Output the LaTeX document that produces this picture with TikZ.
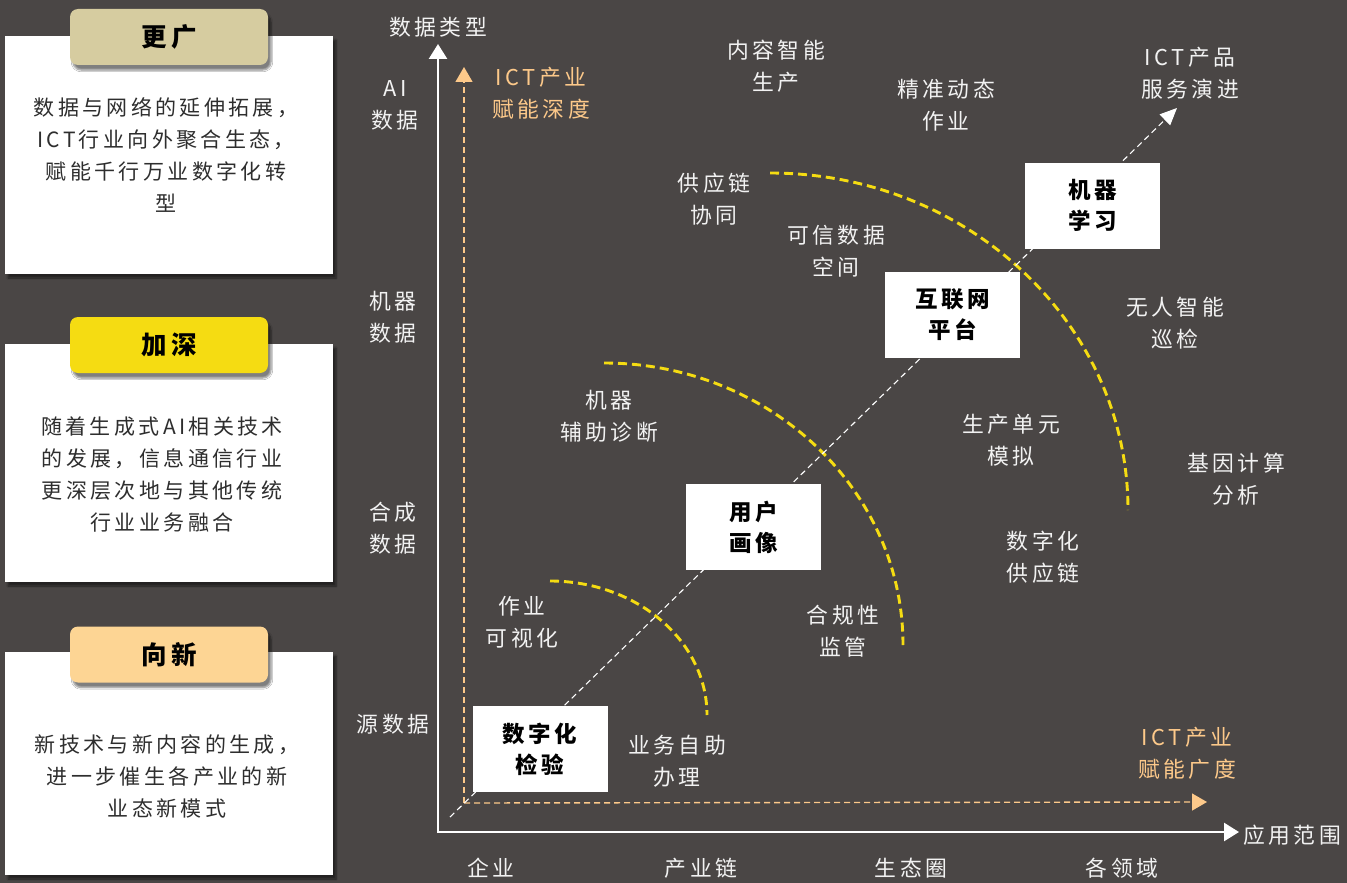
\documentclass[tikz,border=0pt]{standalone}
\usepackage{fontspec}
\newfontfamily\cjk{Noto Sans CJK SC}[LetterSpace=16]
\usetikzlibrary{arrows.meta,shadows.blur}
\definecolor{bg}{HTML}{4A4645}
\definecolor{txtw}{HTML}{F2F2F2}
\definecolor{ora}{HTML}{FDC98A}
\definecolor{yel}{HTML}{F5DC12}
\definecolor{tanc}{HTML}{D6CCA0}
\definecolor{yelt}{HTML}{F5DC12}
\definecolor{orat}{HTML}{FDD594}
\definecolor{bodyt}{HTML}{2E2E2E}
\begin{document}
\begin{tikzpicture}[x=1pt,y=-1pt,
  lbl/.style={text=txtw,font=\cjk\fontsize{21.8}{32}\selectfont,align=center,inner sep=0pt},
  olbl/.style={lbl,text=ora},
  wbox/.style={fill=white,minimum width=135,minimum height=86,inner sep=0pt,align=center,text=black,font=\cjk\bfseries\fontsize{22.5}{31}\selectfont},
  panel/.style={fill=white,minimum width=328,inner sep=0pt,blur shadow={shadow xshift=3pt,shadow yshift=-4pt,shadow blur steps=6,shadow opacity=50}},
  tabbox/.style={rounded corners=8pt,minimum width=198,minimum height=56,inner sep=0pt,text=black,font=\cjk\bfseries\fontsize{25.5}{30}\selectfont,blur shadow={shadow xshift=3pt,shadow yshift=-5pt,shadow blur steps=6,shadow opacity=50}},
  body/.style={text=bodyt,font=\cjk\fontsize{21}{32}\selectfont,align=center,inner sep=0pt},
  axis/.style={draw=white,line width=2.6pt,-{Triangle[length=15pt,width=18pt]}},
  odash/.style={draw=ora,line width=1.4pt,dash pattern=on 6pt off 4pt,-{Triangle[length=15pt,width=17pt]}},
  ddash/.style={draw=white,line width=1.1pt,dash pattern=on 6pt off 4pt,-{Triangle[length=17pt,width=15pt]}},
  arcd/.style={draw=yel,line width=2.9pt,dash pattern=on 9pt off 5pt}
]
\fill[bg] (0,0) rectangle (1347,883);
\useasboundingbox (0,0) rectangle (1347,883);

% left panels
\node[panel,minimum height=238] (p1) at (169,155) {};
\node[tabbox,fill=tanc] (t1) at (169,37) {更广};
\node[body] (b1) at (166,155) {数据与网络的延伸拓展，\\ICT行业向外聚合生态，\\赋能千行万业数字化转\\型};

\node[panel,minimum height=238] (p2) at (169,463) {};
\node[tabbox,fill=yelt] (t2) at (169,345) {加深};
\node[body] (b2) at (162,474) {随着生成式AI相关技术\\的发展，信息通信行业\\更深层次地与其他传统\\行业业务融合};

\node[panel,minimum height=223] (p3) at (169,763.5) {};
\node[tabbox,fill=orat] (t3) at (169,654.5) {向新};
\node[body] (b3) at (167,776) {新技术与新内容的生成，\\进一步催生各产业的新\\业态新模式};

% axes
\coordinate (O) at (438,833);
\coordinate (Yt) at (438,44);
\coordinate (Xt) at (1239,832);
\draw[axis] (O) -- (Yt);
\draw[axis] (437,832) -- (Xt);
\node[lbl] (ylab) at (438,27) {数据类型};
\node[lbl,anchor=west] (xlab) at (1243,835) {应用范围};

% ICT depth / breadth
\coordinate (O2) at (464,803);
\coordinate (O2y) at (464,67);
\coordinate (O2x) at (1207,802);
\draw[odash] (O2) -- (O2y);
\draw[odash] (O2) -- (O2x);
\node[olbl] (depth) at (541,93) {ICT产业\\赋能深度};
\node[olbl] (breadth) at (1187,753) {ICT产业\\赋能广度};

% y-axis labels
\node[lbl] (yai) at (395,105) {AI\\数据};
\node[lbl] (ymach) at (393,317) {机器\\数据};
\node[lbl] (ysyn) at (393,528) {合成\\数据};
\node[lbl] (ysrc) at (393,724) {源数据};

% x-axis labels
\node[lbl] (x1) at (491,868) {企业};
\node[lbl] (x2) at (701,868) {产业链};
\node[lbl] (x3) at (911,868) {生态圈};
\node[lbl] (x4) at (1122,868) {各领域};

% yellow arcs
\draw[arcd] (550,581) arc[start angle=-90,end angle=0,x radius=157,y radius=134];
\draw[arcd] (604,363) arc[start angle=-90,end angle=0,x radius=299,y radius=282];
\draw[arcd] (770,173) arc[start angle=-90,end angle=0,x radius=358,y radius=337];

% diagonal
\coordinate (d0) at (450,817);
\coordinate (d1) at (1177,108);
\draw[ddash] (d0) -- (d1);
\node[lbl] (evo) at (1190,73) {ICT产品\\服务演进};

% boxes
\node[wbox] (bx1) at (540,749) {数字化\\检验};
\node[wbox] (bx2) at (753.5,527) {用户\\画像};
\node[wbox] (bx3) at (952.5,315) {互联网\\平台};
\node[wbox] (bx4) at (1092.5,205.5) {机器\\学习};

% scattered labels
\node[lbl] (l1) at (776,66) {内容智能\\生产};
\node[lbl] (l2) at (946,105) {精准动态\\作业};
\node[lbl] (l3) at (714,199) {供应链\\协同};
\node[lbl] (l4) at (836,251) {可信数据\\空间};
\node[lbl] (l5) at (1175,323) {无人智能\\巡检};
\node[lbl] (l6) at (609,416) {机器\\辅助诊断};
\node[lbl] (l7) at (1011,440) {生产单元\\模拟};
\node[lbl] (l8) at (1236,479) {基因计算\\分析};
\node[lbl] (l9) at (1043,557) {数字化\\供应链};
\node[lbl] (l10) at (522,622) {作业\\可视化};
\node[lbl] (l11) at (843,631) {合规性\\监管};
\node[lbl] (l12) at (677,761) {业务自助\\办理};
\end{tikzpicture}
\end{document}
